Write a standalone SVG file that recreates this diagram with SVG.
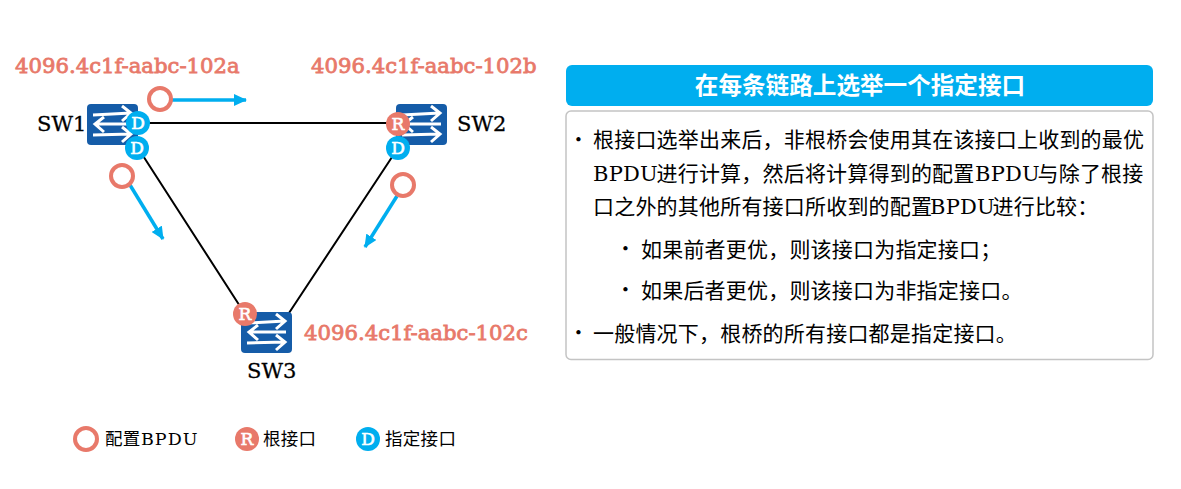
<svg xmlns="http://www.w3.org/2000/svg" width="1181" height="489" viewBox="0 0 1181 489">
<style>
text{font-family:"DejaVu Serif","Noto Sans CJK SC",serif}
.mac{font-size:21.200px;fill:#e8796a;stroke:#e8796a;stroke-width:.8}
.sw{font-size:21px;fill:#000;stroke:#000;stroke-width:.3}
.sq{fill:#155ca8}
.ar{fill:none;stroke:#fff;stroke-width:3}
.port{font-size:17px;fill:#fff;stroke:#fff;stroke-width:.6;text-anchor:middle}
.r{fill:#e8796a}.d{fill:#00aeef}
.msg{fill:#fff;stroke:#e8796a;stroke-width:4}
.flow{stroke:#00aeef;stroke-width:3.5;fill:none;marker-end:url(#a)}
.link{stroke:#000;stroke-width:2;fill:none}
.b{font-size:21px;fill:#000;letter-spacing:.2px}
.dot{font-size:15px;fill:#000}
.lg{font-size:17.500px;fill:#000;letter-spacing:.3px}
</style>
<defs>
<marker id="a" markerUnits="userSpaceOnUse" markerWidth="14" markerHeight="12" refX="12" refY="6" orient="auto"><path d="M0 0L13 6L0 12Z" fill="#00aeef"/></marker>
<g id="arrows">
<rect width="51" height="41" rx="4" class="sq"/>
<path class="ar" d="M6 11L44 9M35 2L44 9L35 17M45 20H8M17 13L8 20L17 28M6 31L44 30M35 23L44 30L35 38"/>
</g>
</defs>
<g id="connectors">
<path class="link" d="M138 123H398M138 148L245 314M398 148L287 316"/>
<path class="flow" d="M171 100H246"/>
<path class="flow" d="M130 185L163 239"/>
<path class="flow" d="M397 196L365 247"/>
</g>
<g id="sw1"><use href="#arrows" x="87" y="104"/><text class="sw" x="37" y="131">SW1</text><text class="mac" x="15" y="73">4096.4c1f-aabc-102a</text>
<circle class="d" cx="138" cy="123" r="12"/><text class="port" x="138" y="129">D</text>
<circle class="d" cx="137" cy="148" r="12"/><text class="port" x="137" y="154">D</text></g>
<g id="sw2"><use href="#arrows" x="396" y="104"/><text class="sw" x="457" y="131">SW2</text><text class="mac" x="311" y="73">4096.4c1f-aabc-102b</text>
<circle class="r" cx="398" cy="124" r="12"/><text class="port" x="398" y="130">R</text>
<circle class="d" cx="398" cy="148" r="12"/><text class="port" x="398" y="154">D</text></g>
<g id="sw3"><use href="#arrows" x="241" y="312"/><text class="sw" x="247" y="378">SW3</text><text class="mac" x="304" y="340">4096.4c1f-aabc-102c</text>
<circle class="r" cx="245" cy="314" r="12"/><text class="port" x="245" y="320">R</text></g>
<g id="msg1"><circle class="msg" cx="160" cy="99" r="11"/></g>
<g id="msg2"><circle class="msg" cx="122" cy="176" r="11"/></g>
<g id="msg3"><circle class="msg" cx="403" cy="185" r="11"/></g>
<g id="legend">
<circle class="msg" cx="86" cy="439" r="11"/><text class="lg" x="105" y="445">配置<tspan x="141" letter-spacing="1">BPDU</tspan></text>
<circle class="r" cx="247" cy="439" r="12"/><text class="port" x="247" y="445">R</text><text class="lg" x="263" y="445">根接口</text>
<circle class="d" cx="368" cy="439" r="12"/><text class="port" x="368" y="445">D</text><text class="lg" x="385" y="445">指定接口</text>
</g>
<g id="title"><rect x="566" y="65" width="587" height="41" rx="6" fill="#00aeef"/><text x="860" y="94" font-size="23.600" font-weight="bold" fill="#fff" text-anchor="middle">在每条链路上选举一个指定接口</text></g>
<g id="body"><rect x="566" y="111" width="587" height="248.500" rx="5" fill="#fff" stroke="#c4c4c4" stroke-width="1.500"/>
<text class="dot" x="574" y="145">•</text><text class="b" x="593" y="147">根接口选举出来后，非根桥会使用其在该接口上收到的最优</text>
<text class="b" x="593" y="181">BPDU<tspan x="656.500">进行计算，然后将计算得到的配置</tspan><tspan x="975">BPDU</tspan><tspan x="1037.500">与除了根接</tspan></text>
<text class="b" x="593" y="214">口之外的其他所有接口所收到的配置<tspan x="930">BPDU</tspan><tspan x="992.500">进行比较：</tspan></text>
<text class="dot" x="621" y="254">•</text><text class="b" x="641" y="257">如果前者更优，则该接口为指定接口；</text>
<text class="dot" x="621" y="295">•</text><text class="b" x="641" y="298">如果后者更优，则该接口为非指定接口。</text>
<text class="dot" x="574" y="338">•</text><text class="b" x="593" y="341">一般情况下，根桥的所有接口都是指定接口。</text>
</g>
</svg>
